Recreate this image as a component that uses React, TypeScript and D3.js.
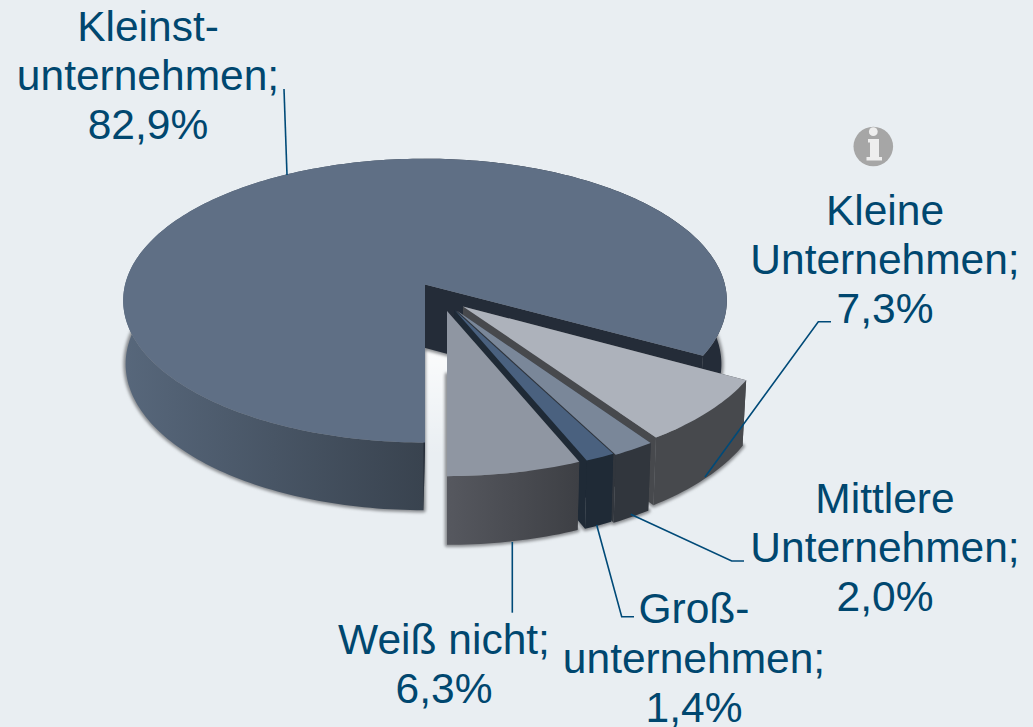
import React from "react";
import * as d3 from "d3";

const categories = ["Kleinstunternehmen", "Kleine Unternehmen", "Mittlere Unternehmen", "Großunternehmen", "Weiß nicht"];
const values = [82.9, 7.3, 2.0, 1.4, 6.3];
const topColors = ["#5f6f85", "#adb2bb", "#7a8799", "#4a617f", "#8f96a2"];
const cutColors = ["#242c38", "#47494d", "#31363d", "#1f2a36", "#3d3f44"];
const wallFills = ["url(#wBig)", "#47494d", "#31363d", "#1f2a36", "url(#wWeiss)"];
// how far each slice is pulled out of the pie: sideways in px, forward on the disc plane
const explodeX = [-1, 37, 31, 28.6, 21];
const explodeV = [0.003, -0.15, -0.18, -0.175, -0.1817];
const baseShift = [-1.5, 0, 0, 0, 0];

const labels = [
  { lines: ["Kleinst-", "unternehmen;", "82,9%"], x: 148, y: 41 },
  { lines: ["Kleine", "Unternehmen;", "7,3%"], x: 885, y: 225 },
  { lines: ["Mittlere", "Unternehmen;", "2,0%"], x: 885, y: 513 },
  { lines: ["Groß-", "unternehmen;", "1,4%"], x: 694, y: 623.3 },
  { lines: ["Weiß nicht;", "6,3%"], x: 444, y: 653.5 },
];
const leaders: [number, number][][] = [
  [[284, 89], [287, 175]],
  [[831, 321.7], [818.3, 321.7], [705, 477]],
  [[744, 561], [731.7, 561], [630.7, 514.3]],
  [[634, 616.7], [621.7, 616.7], [596.7, 525]],
  [[512.3, 612.7], [512.3, 542]],
];

const CX = 426, CY = 285, R = 300, Q = 140.2, K = 0.1127;
const BOTTOM_CY = 348, BOTTOM_R = 0.987, BOTTOM_Q = 1.03;
const TEXT = "#00476f";

function project(i: number, u: number, v: number, bottom: boolean): [number, number] {
  const d = 1 + K * v;
  return bottom
    ? [CX + explodeX[i] + baseShift[i] + (BOTTOM_R * R * u) / d, BOTTOM_CY - (BOTTOM_Q * Q * v) / d]
    : [CX + explodeX[i] + (R * u) / d, CY - (Q * v) / d];
}

const line = d3.line<[number, number]>();
const arcs = d3.pie<number>().sort(null).startAngle(Math.PI).endAngle(3 * Math.PI)(values);

function arcPts(i: number, a0: number, a1: number, bottom: boolean): [number, number][] {
  const n = Math.max(2, Math.ceil(Math.abs(a1 - a0) / 0.02));
  return d3.range(n + 1).map((k) => {
    const t = a0 + ((a1 - a0) * k) / n;
    return project(i, Math.sin(t), explodeV[i] + Math.cos(t), bottom);
  });
}
const apex = (i: number, bottom: boolean) => project(i, 0, explodeV[i], bottom);
const closed = (pts: [number, number][]) => line(pts) + "Z";

const slices = arcs.map((a, i) => {
  const { startAngle: s, endAngle: e } = a;
  const topArc = arcPts(i, s, e, false);
  const botArc = arcPts(i, s, e, true);
  return {
    i,
    top: closed([apex(i, false), ...topArc]),
    base: closed([apex(i, true), ...botArc]),
    outer: closed([...topArc, ...botArc.slice().reverse()]),
    cutStart: closed([apex(i, false), topArc[0], botArc[0], apex(i, true)]),
    cutEnd: closed([apex(i, false), topArc[topArc.length - 1], botArc[botArc.length - 1], apex(i, true)]),
  };
});

export default function App() {
  return (
    <svg
      width={1033}
      height={727}
      viewBox="0 0 1033 727"
      style={{ position: "absolute", left: 0, top: 0 }}
      fontFamily="'Liberation Sans', Arial, sans-serif"
    >
      <defs>
        <linearGradient id="wBig" gradientUnits="userSpaceOnUse" x1={125} x2={720} y1={0} y2={0}>
          <stop offset="0" stopColor="#57677b" />
          <stop offset="0.5" stopColor="#39434f" />
          <stop offset="0.503" stopColor="#242c38" />
          <stop offset="1" stopColor="#242c38" />
        </linearGradient>
        <linearGradient id="wWeiss" gradientUnits="userSpaceOnUse" x1={447} x2={581} y1={0} y2={0}>
          <stop offset="0" stopColor="#56585f" />
          <stop offset="1" stopColor="#3d3f44" />
        </linearGradient>
        <linearGradient id="glow" x1={0} x2={0} y1={0} y2={1}>
          <stop offset="0" stopColor="#ffffff" stopOpacity={0.85} />
          <stop offset="1" stopColor="#ffffff" stopOpacity={0} />
        </linearGradient>
        <filter id="soft" x="-10%" y="-10%" width="120%" height="120%">
          <feGaussianBlur stdDeviation={1.6} />
        </filter>
      </defs>
      <rect width={1033} height={727} fill="#e9eef2" />

      <rect x={425} y={345} width={23} height={110} fill="url(#glow)" />

      <g filter="url(#soft)">
        {slices.map((s) => (
          <path key={s.i} d={s.base} fill="#8b8e92" stroke="#8b8e92" strokeWidth={4.5} strokeLinejoin="round" />
        ))}
      </g>

      {slices.map((s) => (
        <g key={s.i}>
          <path d={s.cutStart} fill={cutColors[s.i]} />
          <path d={s.cutEnd} fill={cutColors[s.i]} />
          <path d={s.outer} fill={wallFills[s.i]} />
          <path d={s.top} fill={topColors[s.i]} />
        </g>
      ))}

      {leaders.map((pts, i) => (
        <path key={i} d={line(pts) ?? ""} fill="none" stroke="#004a78" strokeWidth={1.6} />
      ))}

      <g fontSize={42.5} fill={TEXT} textAnchor="middle">
        {labels.map((l, i) => (
          <text key={i}>
            {l.lines.map((t, j) => (
              <tspan key={j} x={l.x} y={l.y + j * 49.2}>
                {t}
              </tspan>
            ))}
          </text>
        ))}
      </g>

      <g>
        <circle cx={873.3} cy={146.5} r={19.8} fill="#a6a6a6" />
        <circle cx={873.3} cy={131.7} r={4.4} fill="#eeeeee" />
        <path d="M868 139h11v18h3v3.5h-15.5v-3.5h3.5v-14.5h-2z" fill="#eeeeee" />
      </g>
    </svg>
  );
}
